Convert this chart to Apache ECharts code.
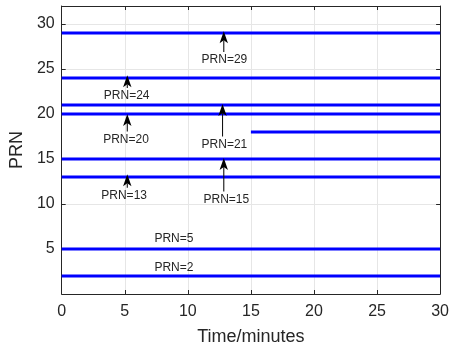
<!DOCTYPE html>
<html>
<head>
<meta charset="utf-8">
<script src="https://cdn.jsdelivr.net/npm/echarts@6/dist/echarts.min.js"></script>
<style>
html,body{margin:0;padding:0;background:#fff;}
#c{width:452px;height:351px;}
</style>
</head>
<body>
<div id="c"></div>
<script>
// Visible satellites (PRN) and their visibility windows in minutes
const prnIds   = [2, 5, 13, 15, 18, 20, 21, 24, 29];
const visStart = [0, 0, 0, 0, 15, 0, 0, 0, 0];
const visEnd   = [30, 30, 30, 30, 30, 30, 30, 30, 30];

// Annotation texts
const annLabels = ['PRN=29', 'PRN=24', 'PRN=21', 'PRN=20', 'PRN=15', 'PRN=13', 'PRN=5', 'PRN=2'];
const annTextX  = [12.9, 5.15, 12.9, 5.1, 13.05, 4.95, 8.9, 8.9];
const annTextY  = [26.05, 22.0, 16.6, 17.2, 10.5, 10.9, 6.1, 2.9];

// Annotation arrows
const arrowX    = [12.85, 5.2, 12.75, 5.2, 12.85, 5.2];
const arrowTip  = [29.2, 24.3, 21.1, 20.0, 15.1, 13.3];
const arrowTail = [26.9, 22.9, 17.5, 18.05, 11.4, 11.8];

const xTickLabels = ['0', '5', '10', '15', '20', '25', '30'];

const FONT = 'Liberation Sans, Arial, Helvetica, sans-serif';
const AX = '#262626';

const chart = echarts.init(document.getElementById('c'), null, {renderer: 'canvas'});

const lineSeries = prnIds.map((p, i) => ({
  type: 'line',
  xAxisIndex: 0, yAxisIndex: 0,
  data: [[visStart[i], p], [visEnd[i], p]],
  showSymbol: false,
  symbol: 'none',
  lineStyle: {color: '#0000ff', width: 2.8},
  silent: true,
  animation: false,
  z: 3
}));

const arrowSeries = {
  type: 'custom',
  xAxisIndex: 0, yAxisIndex: 0,
  data: arrowX.map((x, i) => [x, arrowTip[i], arrowTail[i]]),
  renderItem: function (params, api) {
    const tip = api.coord([api.value(0), api.value(1)]);
    const tail = api.coord([api.value(0), api.value(2)]);
    const hl = 12, hw = 4.2, notch = 9;
    return {
      type: 'group',
      children: [
        {type: 'line', shape: {x1: tail[0], y1: tail[1], x2: tip[0], y2: tip[1] + notch}, style: {stroke: '#111', lineWidth: 1.1}},
        {type: 'polygon', shape: {points: [[tip[0], tip[1]], [tip[0] - hw, tip[1] + hl], [tip[0], tip[1] + notch], [tip[0] + hw, tip[1] + hl]]}, style: {fill: '#000'}}
      ]
    };
  },
  silent: true,
  animation: false,
  z: 5
};

const textSeries = {
  type: 'custom',
  xAxisIndex: 0, yAxisIndex: 0,
  data: annTextX.map((x, i) => [x, annTextY[i], i]),
  renderItem: function (params, api) {
    const p = api.coord([api.value(0), api.value(1)]);
    return {
      type: 'text',
      x: p[0], y: p[1],
      style: {text: annLabels[api.value(2)], fill: '#262626', font: '12px ' + FONT, align: 'center', verticalAlign: 'middle'}
    };
  },
  silent: true,
  animation: false,
  z: 6
};

chart.setOption({
  animation: false,
  backgroundColor: '#fff',
  grid: {left: 58, right: 7, top: 6, bottom: 52, containLabel: false},
  xAxis: [{
    type: 'value', min: 0, max: 30, interval: 5, position: 'bottom',
    name: 'Time/minutes', nameLocation: 'middle', nameGap: 34,
    nameTextStyle: {fontFamily: FONT, fontSize: 18, color: AX},
    axisLine: {show: true, lineStyle: {color: AX, width: 1}},
    axisTick: {show: true, inside: true, length: 4, lineStyle: {color: AX}},
    axisLabel: {fontFamily: FONT, fontSize: 16, color: AX, margin: 10,
      formatter: (v) => xTickLabels[Math.round(v / 5)] ?? ''},
    splitLine: {show: true, lineStyle: {color: '#e6e6e6', width: 1}}
  }, {
    type: 'value', min: 0, max: 30, interval: 5, position: 'top',
    axisLine: {show: true, onZero: false, lineStyle: {color: AX, width: 1}},
    axisTick: {show: true, inside: true, length: 4, lineStyle: {color: AX}},
    axisLabel: {show: false}, splitLine: {show: false}
  }],
  yAxis: [{
    type: 'value', min: 0, max: 32, interval: 5, position: 'left',
    name: 'PRN', nameLocation: 'middle', nameGap: 33, nameRotate: 90,
    nameTextStyle: {fontFamily: FONT, fontSize: 18, color: AX},
    axisLine: {show: true, onZero: false, lineStyle: {color: AX, width: 1}},
    axisTick: {show: true, inside: true, length: 4, lineStyle: {color: AX}},
    axisLabel: {fontFamily: FONT, fontSize: 16, color: AX, margin: 7, showMinLabel: false, showMaxLabel: false},
    splitLine: {show: true, lineStyle: {color: '#e6e6e6', width: 1}}
  }, {
    type: 'value', min: 0, max: 32, interval: 5, position: 'right',
    axisLine: {show: true, onZero: false, lineStyle: {color: AX, width: 1}},
    axisTick: {show: true, inside: true, length: 4, lineStyle: {color: AX}},
    axisLabel: {show: false}, splitLine: {show: false}
  }],
  series: lineSeries.concat([arrowSeries, textSeries])
});
</script>
</body>
</html>
